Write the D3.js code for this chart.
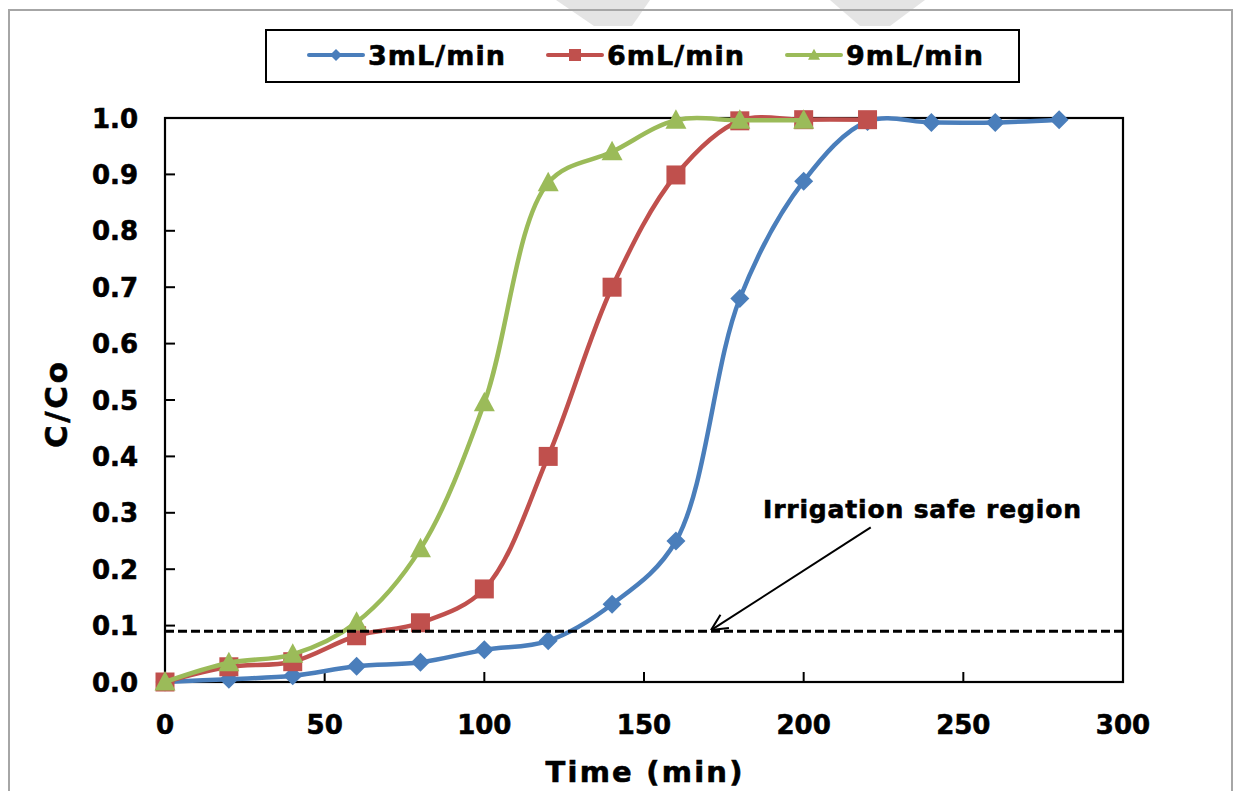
<!DOCTYPE html>
<html>
<head>
<meta charset="utf-8">
<script src="https://cdn.jsdelivr.net/npm/d3@7"></script>
<style>
  body { margin: 0; background: #fff; }
  svg { display: block; }
  text { font-family: "DejaVu Sans", Verdana, sans-serif; font-weight: bold; fill: #000;
         stroke: #000; stroke-width: 0.6px; }
</style>
</head>
<body>
<script>
// time axis (min)
var times = [0, 20, 40, 60, 80, 100, 120, 140, 160, 180, 200, 220, 240, 260, 280];
// C/Co for each flow rate
var flow3 = [0.0, 0.005, 0.011, 0.028, 0.035, 0.057, 0.073, 0.138, 0.25, 0.68, 0.888, 0.994, 0.992, 0.992, 0.997];
var flow6 = [0.0, 0.027, 0.036, 0.082, 0.105, 0.165, 0.40, 0.70, 0.899, 0.995, 0.997, 0.997];
var flow9 = [0.0, 0.034, 0.049, 0.106, 0.236, 0.495, 0.885, 0.94, 0.996, 0.996, 0.996];
var seriesNames = ["3mL/min", "6mL/min", "9mL/min"];
var xTicks = [0, 50, 100, 150, 200, 250, 300];
var yTicks = [0, 0.1, 0.2, 0.3, 0.4, 0.5, 0.6, 0.7, 0.8, 0.9, 1.0];
var safeLimit = 0.09;

(function() {
  var W = 1236, H = 791;
  var pLeft = 165, pRight = 1123, pTop = 118, pBottom = 682;

  var svg = d3.select("body").append("svg").attr("width", W).attr("height", H);

  // watermark remnants at top
  svg.append("path").attr("d", "M556,0 L650,0 L632,26 L594,26 Z").attr("fill", "#e4e4e4");
  svg.append("path").attr("d", "M830,0 L925,0 L890,26 L860,26 Z").attr("fill", "#e4e4e4");

  // outer frame
  svg.append("rect").attr("x", 9).attr("y", 10).attr("width", 1223).attr("height", 800)
    .attr("fill", "none").attr("stroke", "#a6a6a6").attr("stroke-width", 2);

  var x = d3.scaleLinear().domain([0, 300]).range([pLeft, pRight]);
  var y = d3.scaleLinear().domain([0, 1]).range([pBottom, pTop]);

  // plot border
  svg.append("rect").attr("x", pLeft).attr("y", pTop)
    .attr("width", pRight - pLeft).attr("height", pBottom - pTop)
    .attr("fill", "none").attr("stroke", "#000").attr("stroke-width", 2.2);

  // ticks (inside)
  svg.selectAll(".ytick").data(yTicks).enter().append("line")
    .attr("x1", pLeft).attr("x2", pLeft + 10)
    .attr("y1", function(d) { return y(d); }).attr("y2", function(d) { return y(d); })
    .attr("stroke", "#000").attr("stroke-width", 2);
  svg.selectAll(".xtick").data(xTicks).enter().append("line")
    .attr("x1", function(d) { return x(d); }).attr("x2", function(d) { return x(d); })
    .attr("y1", pBottom).attr("y2", pBottom - 10)
    .attr("stroke", "#000").attr("stroke-width", 2);

  // tick labels
  svg.selectAll(".ylab").data(yTicks).enter().append("text")
    .attr("x", 138).attr("y", function(d) { return y(d) + 9.5; })
    .attr("text-anchor", "end").attr("font-size", 26)
    .text(function(d) { return d.toFixed(1); });
  svg.selectAll(".xlab").data(xTicks).enter().append("text")
    .attr("x", function(d) { return x(d); }).attr("y", 734)
    .attr("text-anchor", "middle").attr("font-size", 26)
    .text(function(d) { return d; });

  // axis titles
  svg.append("text").attr("x", 644).attr("y", 782).attr("text-anchor", "middle")
    .attr("font-size", 29).attr("textLength", 197).attr("lengthAdjust", "spacing")
    .text("Time (min)");
  svg.append("text").attr("transform", "translate(67,405) rotate(-90)")
    .attr("text-anchor", "middle").attr("font-size", 31)
    .attr("textLength", 86).attr("lengthAdjust", "spacing")
    .text("C/Co");

  // marker shapes
  function marker(kind, s) {
    var h = s / 2;
    if (kind === "diamond") return "M0," + (-h) + "L" + h + ",0L0," + h + "L" + (-h) + ",0Z";
    if (kind === "square") return "M" + (-h) + "," + (-h) + "h" + s + "v" + s + "h" + (-s) + "Z";
    return "M0," + (-h * 1.05) + "L" + h + "," + (h * 0.8) + "L" + (-h) + "," + (h * 0.8) + "Z";
  }

  var series = [
    { name: seriesNames[0], values: flow3, color: "#4a7ebb", kind: "diamond", size: 19 },
    { name: seriesNames[1], values: flow6, color: "#c0504d", kind: "square", size: 19 },
    { name: seriesNames[2], values: flow9, color: "#9bbb59", kind: "triangle", size: 21 }
  ];

  var line = d3.line()
    .x(function(d) { return x(d[0]); })
    .y(function(d) { return y(d[1]); })
    .curve(d3.curveCatmullRom.alpha(0.5));

  series.forEach(function(s) {
    var pts = s.values.map(function(v, i) { return [times[i], v]; });
    svg.append("path").datum(pts).attr("d", line)
      .attr("fill", "none").attr("stroke", s.color).attr("stroke-width", 4.5)
      .attr("stroke-linejoin", "round");
    svg.selectAll(null).data(pts).enter().append("path")
      .attr("transform", function(d) { return "translate(" + x(d[0]) + "," + y(d[1]) + ")"; })
      .attr("d", marker(s.kind, s.size))
      .attr("fill", s.color);
  });

  // irrigation safe limit
  svg.append("line").attr("x1", pLeft).attr("x2", pRight)
    .attr("y1", y(safeLimit)).attr("y2", y(safeLimit))
    .attr("stroke", "#000").attr("stroke-width", 2.8).attr("stroke-dasharray", "9,4");

  // annotation arrow
  var ax0 = x(221), ay0 = y(0.274), ax1 = x(171), ay1 = y(0.092);
  svg.append("line").attr("x1", ax0).attr("y1", ay0).attr("x2", ax1).attr("y2", ay1)
    .attr("stroke", "#000").attr("stroke-width", 2);
  var ang = Math.atan2(ay0 - ay1, ax0 - ax1);
  [-0.45, 0.45].forEach(function(a) {
    svg.append("line").attr("x1", ax1).attr("y1", ay1)
      .attr("x2", ax1 + 18 * Math.cos(ang + a)).attr("y2", ay1 + 18 * Math.sin(ang + a))
      .attr("stroke", "#000").attr("stroke-width", 2);
  });
  svg.append("text").attr("x", 763).attr("y", 518).attr("font-size", 25)
    .attr("textLength", 318).attr("lengthAdjust", "spacing")
    .text("Irrigation safe region");

  // legend
  svg.append("rect").attr("x", 266).attr("y", 30).attr("width", 753).attr("height", 52)
    .attr("fill", "#fff").attr("stroke", "#000").attr("stroke-width", 2);
  var legX = [309, 548, 787];
  series.forEach(function(s, i) {
    svg.append("line").attr("x1", legX[i]).attr("x2", legX[i] + 54)
      .attr("y1", 55).attr("y2", 55)
      .attr("stroke", s.color).attr("stroke-width", 4).attr("stroke-linecap", "round");
    svg.append("path").attr("transform", "translate(" + (legX[i] + 27) + ",55)")
      .attr("d", marker(s.kind, 12)).attr("fill", s.color);
    svg.append("text").attr("x", legX[i] + 59).attr("y", 65).attr("font-size", 27)
      .attr("textLength", 137).attr("lengthAdjust", "spacing")
      .text(s.name);
  });
})();
</script>
</body>
</html>
